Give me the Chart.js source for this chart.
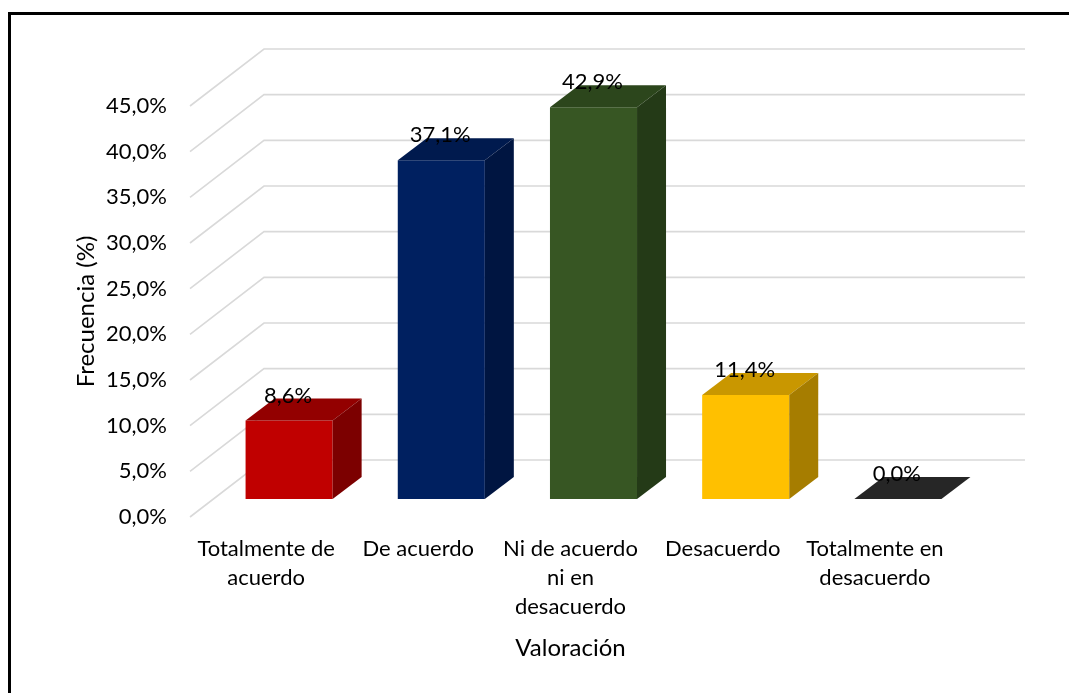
<!DOCTYPE html>
<html>
<head>
<meta charset="utf-8">
<script src="https://cdn.jsdelivr.net/npm/chart.js@4.4.1/dist/chart.umd.min.js"></script>
<style>
  html, body { margin: 0; padding: 0; background: #ffffff; }
  #wrap { position: relative; width: 1069px; height: 693px; }
</style>
</head>
<body>
<div id="wrap"><canvas id="c" width="1069" height="693"></canvas></div>
<script>
// ---- data ----
const categories = [
  ['Totalmente de', 'acuerdo'],
  ['De acuerdo'],
  ['Ni de acuerdo', 'ni en', 'desacuerdo'],
  ['Desacuerdo'],
  ['Totalmente en', 'desacuerdo']
];
const values = [8.6, 37.1, 42.9, 11.4, 0.0];
const frontColors = ['#C00000', '#002060', '#375623', '#FFC000', '#262626'];
const topColors   = ['#930000', '#001a4e', '#2c461c', '#C99700', '#262626'];
const sideColors  = ['#7c0000', '#001541', '#243a17', '#A67D00', '#1c1c1c'];
const yMin = 0, yMax = 45, yStep = 5;
const xTitle = 'Valoración';
const yTitle = 'Frecuencia (%)';

const FONT = 'Lato, Carlito, Calibri, "Open Sans", sans-serif';
const fmt = v => v.toFixed(1).replace('.', ',') + '%';

// 3D projection offsets (style)
const BACK_DX = 74, BACK_DY = -57;   // back wall relative to front plane
const BAR_DX = 23, BAR_DY = -18;     // bar front face relative to front plane
const DEPTH_DX = 29, DEPTH_DY = -22; // bar depth

const depth3d = {
  id: 'depth3d',
  beforeDraw(chart) {
    const ctx = chart.ctx;
    ctx.save();
    ctx.strokeStyle = '#000';
    ctx.lineWidth = 3;
    ctx.strokeRect(9.5, 13.5, 1100, 720);
    ctx.restore();
  },
  beforeDatasetsDraw(chart) {
    const ctx = chart.ctx;
    const ys = chart.scales.y, xs = chart.scales.x;
    const left = xs.left, right = xs.right;
    ctx.save();
    ctx.strokeStyle = '#d9d9d9';
    ctx.lineWidth = 1.6;
    ys.ticks.forEach(t => {
      const y = ys.getPixelForValue(t.value);
      ctx.beginPath();
      ctx.moveTo(left, y);
      ctx.lineTo(left + BACK_DX, y + BACK_DY);
      ctx.lineTo(right + BACK_DX, y + BACK_DY);
      ctx.stroke();
    });
    ctx.restore();
    ctx.save();
    ctx.translate(BAR_DX, BAR_DY);
  },
  afterDatasetsDraw(chart) {
    const ctx = chart.ctx;
    const meta = chart.getDatasetMeta(0);
    meta.data.forEach((bar, i) => {
      const p = bar.getProps(['x', 'y', 'base', 'width'], true);
      const l = p.x - p.width / 2, r = p.x + p.width / 2;
      // top face
      ctx.fillStyle = topColors[i];
      ctx.beginPath();
      ctx.moveTo(l, p.y);
      ctx.lineTo(l + DEPTH_DX, p.y + DEPTH_DY);
      ctx.lineTo(r + DEPTH_DX, p.y + DEPTH_DY);
      ctx.lineTo(r, p.y);
      ctx.closePath();
      ctx.fill();
      // side face
      if (p.base - p.y > 0.5) {
        ctx.fillStyle = sideColors[i];
        ctx.beginPath();
        ctx.moveTo(r, p.y);
        ctx.lineTo(r + DEPTH_DX, p.y + DEPTH_DY);
        ctx.lineTo(r + DEPTH_DX, p.base + DEPTH_DY);
        ctx.lineTo(r, p.base);
        ctx.closePath();
        ctx.fill();
      }
    });
    // data labels
    ctx.fillStyle = '#000';
    ctx.font = '22px ' + FONT;
    ctx.textAlign = 'center';
    ctx.textBaseline = 'middle';
    meta.data.forEach((bar, i) => {
      const p = bar.getProps(['x', 'y'], true);
      ctx.fillText(fmt(values[i]), p.x - 1, p.y - 25);
    });
    ctx.restore();
  }
};

new Chart(document.getElementById('c'), {
  type: 'bar',
  data: {
    labels: categories,
    datasets: [{
      data: values,
      backgroundColor: frontColors,
      borderWidth: 0,
      barPercentage: 0.572,
      categoryPercentage: 1.0,
      clip: false
    }]
  },
  options: {
    responsive: false,
    animation: false,
    devicePixelRatio: 1,
    layout: { padding: { left: 0, right: 118, top: 106, bottom: 0 } },
    plugins: { legend: { display: false }, tooltip: { enabled: false } },
    scales: {
      x: {
        grid: { display: false, drawTicks: false },
        border: { display: false },
        ticks: { color: '#000', font: { family: FONT, size: 22, lineHeight: 1.32 }, padding: 17, maxRotation: 0, autoSkip: false },
        title: { display: true, text: xTitle, color: '#000', font: { family: FONT, size: 24 }, padding: { top: 0, bottom: 30 } },
        afterFit(s) { s.height = 176; }
      },
      y: {
        min: yMin, max: yMax,
        grid: { display: false, drawTicks: false },
        border: { display: false },
        ticks: { stepSize: yStep, color: '#000', font: { family: FONT, size: 22 }, padding: 23, callback: v => fmt(v) },
        title: { display: true, text: yTitle, color: '#000', font: { family: FONT, size: 24 }, padding: { top: 72, bottom: 0 } },
        afterFit(s) { s.width = 190; }
      }
    }
  },
  plugins: [depth3d]
});
</script>
</body>
</html>
